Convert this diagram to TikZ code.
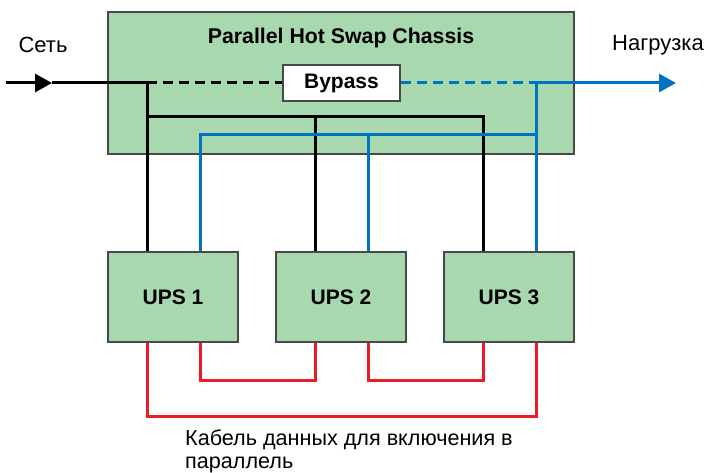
\documentclass[tikz,border=0pt]{standalone}
\usepackage{fontspec}
\setmainfont{Liberation Sans}
\usetikzlibrary{arrows.meta,positioning,calc}
\definecolor{boxgreen}{RGB}{168,216,174}
\definecolor{edgegray}{RGB}{72,72,72}
\definecolor{loadblue}{RGB}{0,114,196}
\definecolor{linkred}{RGB}{237,28,36}

\begin{document}
\begin{tikzpicture}[x=1pt,y=-1pt,
    box/.style={draw=edgegray,fill=boxgreen,line width=1.5pt,inner sep=0pt},
    unit/.style={box,minimum width=130pt,minimum height=90pt,font=\bfseries\fontsize{21}{24}\selectfont},
    wire/.style={line width=3pt},
    tip/.style={-{Triangle[length=17pt,width=18pt]}},
    lbl/.style={font=\fontsize{22}{23}\selectfont,inner sep=0pt}]
\useasboundingbox (0,0) rectangle (706,473);

% Chassis
\node[box,minimum width=466pt,minimum height=142pt] (chassis) at (341,83) {};
\node[font=\bfseries\fontsize{21.3}{24}\selectfont] (title) at (341,38) {Parallel Hot Swap Chassis};
\node[box,fill=white,minimum width=117pt,minimum height=36pt,font=\bfseries\fontsize{21}{24}\selectfont] (bypass) at (341.5,83) {Bypass};

% UPS units
\foreach \i/\x in {1/173,2/341,3/509} {
    \node[unit] (ups\i) at (\x,297) {UPS \i};
    \coordinate (in\i) at ($(ups\i.north)+(-26,0)$);
    \coordinate (out\i) at ($(ups\i.north)+(27,0)$);
    \coordinate (la\i) at ($(ups\i.south)+(-26,0)$);
    \coordinate (lb\i) at ($(ups\i.south)+(27,0)$);
}

% Labels
\node[lbl] (grid) at (43,45) {Сеть};
\node[lbl] (load) at (658,45) {Нагрузка};
\node[lbl,font=\fontsize{21.6}{23}\selectfont,anchor=west,align=left] (cable) at (185,451.5) {Кабель данных для включения в\\параллель};

\coordinate (src) at (6,83);
\coordinate (arr) at (52,83);
\coordinate (jin) at (147,83);
\coordinate (kbus) at (147,117);
\coordinate (jout) at (536,83);
\coordinate (bbus) at (536,135);
\coordinate (dst) at (676,83);

% Input (black)
\draw[wire,tip] (src) -- (arr);
\draw[wire] (arr) -- (jin);
\draw[wire,dash pattern=on 10pt off 6pt] (jin) -- (bypass.west);
\draw[wire] (jin) -- (in1);
\draw[wire] (kbus) -| (in3);
\draw[wire] (in2) -- (in2 |- kbus);

% Output (blue)
\draw[wire,loadblue,dash pattern=on 10pt off 6pt] (bypass.east) -- (jout);
\draw[wire,loadblue,tip] (jout) -- (dst);
\draw[wire,loadblue] (jout) -- (out3);
\draw[wire,loadblue] (out1) |- (bbus);
\draw[wire,loadblue] (out2) -- (out2 |- bbus);

% Parallel cable (red)
\draw[wire,linkred] (la1) -- ++(0,74) -| (lb3);
\draw[wire,linkred] (lb1) -- ++(0,38) -| (la2);
\draw[wire,linkred] (lb2) -- ++(0,38) -| (la3);
\end{tikzpicture}
\end{document}
